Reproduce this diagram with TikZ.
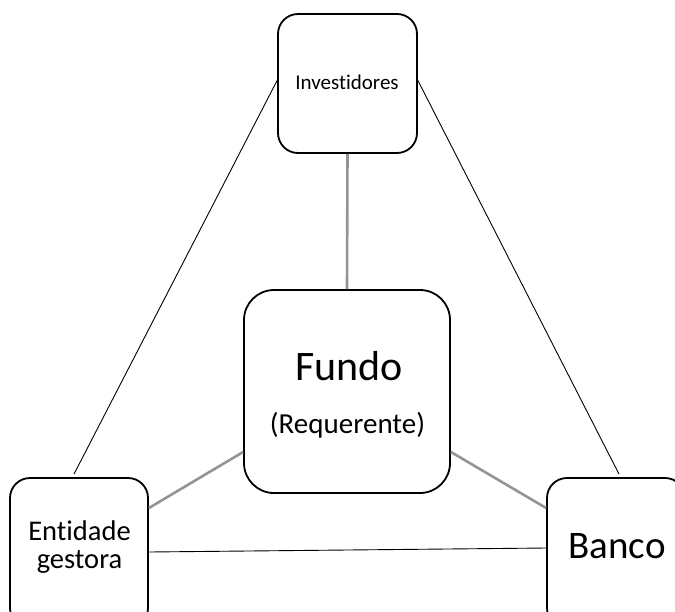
\documentclass[tikz,border=0pt]{standalone}
\usepackage{fontspec}
\setmainfont{Carlito}[Ligatures=NoCommon]
\begin{document}
\begin{tikzpicture}[x=1pt,y=-1pt,
  box/.style={draw=black,line width=1.8pt,rounded corners=#1,inner sep=0pt},
  thin/.style={draw=black,line width=0.9pt},
  grey/.style={draw=black!42,line width=2.6pt},
  lbl/.style={anchor=base,inner sep=0pt}]
\useasboundingbox (0,0) rectangle (675,611);
\clip (0,0) rectangle (675,611);
\node[box=20pt,minimum width=139pt,minimum height=139pt] (inv) at (347.5,83.5) {};
\node[box=30pt,minimum width=206pt,minimum height=203pt] (fundo) at (347,391.5) {};
\node[box=20pt,minimum width=138pt,minimum height=150pt] (ent) at (79,553) {};
\node[box=20pt,minimum width=138pt,minimum height=150pt] (banco) at (616,553) {};
\node[lbl] (tinv) at (347,89) {\fontsize{21}{25}\selectfont Investidores};
\node[lbl] (tfundo) at (349,380) {\fontsize{42}{50}\selectfont Fundo};
\node[lbl] (treq) at (347.5,433) {\fontsize{29}{35}\selectfont (Requerente)};
\node[lbl] (tent1) at (79.5,540) {\fontsize{28.5}{34}\selectfont Entidade};
\node[lbl] (tent2) at (79.5,568) {\fontsize{28.5}{34}\selectfont gestora};
\node[lbl] (tbanco) at (617,558) {\fontsize{39}{47}\selectfont Banco};
\draw[grey] (inv.south) -- (fundo.north);
\draw[grey] ([yshift=-60.5pt]fundo.west) -- ([yshift=45pt]ent.east);
\draw[grey] ([yshift=-60.5pt]fundo.east) -- ([yshift=45pt]banco.west);
\draw[thin] ([yshift=3pt]inv.west) -- ([xshift=-5pt,yshift=3pt]ent.north);
\draw[thin] ([yshift=3pt]inv.east) -- ([xshift=3pt,yshift=3pt]banco.north);
\draw[thin] ([yshift=1pt]ent.east) -- ([yshift=5pt]banco.west);
\end{tikzpicture}
\end{document}
